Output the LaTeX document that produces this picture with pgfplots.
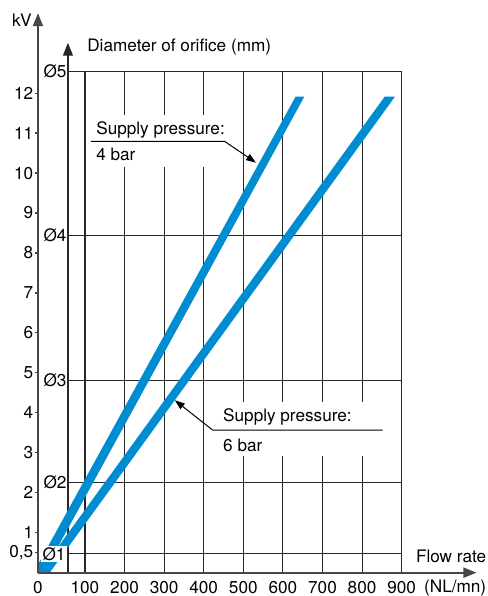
\documentclass[border=0pt]{standalone}
\usepackage{fontspec}
\setmainfont{TeX Gyre Heros}
\usepackage{pgfplots}
\pgfplotsset{compat=1.18}
\usetikzlibrary{arrows.meta}
\definecolor{cblue}{RGB}{0,140,208}
\definecolor{axgray}{RGB}{70,70,70}
\definecolor{gridc}{RGB}{40,40,40}
\begin{document}
\begin{tikzpicture}[font=\fontsize{8.6}{10}\selectfont]
\begin{axis}[
  x=0.198125pt, y=20pt,
  xmin=-18.7, xmax=1089, ymin=0, ymax=14.0,
  enlargelimits=false, clip=false,
  axis lines=left,
  axis line style={draw=none},
  xtick={-18.7,100,200,300,400,500,600,700,800,900},
  xticklabels={0,100,200,300,400,500,600,700,800,900},
  x tick style={draw=none},
  x tick label style={inner sep=0pt, yshift=-2.6pt},
  ytick={0.5,1,2,3,4,5,6,7,8,9,10,11,12},
  yticklabels={{0,5},1,2,3,4,5,6,7,8,9,10,11,12},
  y tick style={draw=axgray, line width=0.6pt},
  y tick label style={inner sep=0.6pt},
  tick align=outside, major tick length=1.6pt,
  ytick pos=left, xtick pos=bottom,
]
% bounding box
\path (axis cs:-114.6,-0.568) rectangle (axis cs:1117,14.33);
% grid
\pgfplotsinvokeforeach{100,200,300,400,500,600,700,800,900}{
  \draw[gridc, line width=0.55pt] (axis cs:#1,0) -- (axis cs:#1,12.53);
}
\pgfplotsinvokeforeach{0.48,2.265,4.81,8.44,12.53}{
  \draw[gridc, line width=0.55pt] (axis cs:57,#1) -- (axis cs:900,#1);
}
% diameter axis
\draw[gridc, line width=0.65pt, -{Triangle[width=5pt,length=6.5pt]}] (axis cs:57,0) -- (axis cs:57,13.26);
% white boxes behind annotations
\fill[white] (axis cs:115,11.46) rectangle (axis cs:455.8,10.16);
\fill[white] (axis cs:423,4.26) rectangle (axis cs:852,2.91);
% bands: 4 bar
\addplot[fill=cblue, draw=none] coordinates {(-18.7,0) (-18.7,0.2) (632,11.91) (654,11.91) (-4,0)};
% 6 bar
\addplot[fill=cblue, draw=none] coordinates {(-15,0) (857,11.91) (883,11.91) (11,0)};
% main axes
\draw[axgray, line width=0.9pt, -{Triangle[width=5pt,length=6.5pt]}] (axis cs:-18.7,0) -- (axis cs:1089,0);
\draw[axgray, line width=0.9pt, -{Triangle[width=5pt,length=6.5pt]}] (axis cs:-18.7,0) -- (axis cs:-18.7,14.0);
% diameter labels
\node[anchor=base east, inner sep=0pt] at (axis cs:54.5,12.38) {Ø5};
\node[anchor=base east, inner sep=0pt] at (axis cs:54.5,8.29) {Ø4};
\node[anchor=base east, inner sep=0pt] at (axis cs:54.5,4.66) {Ø3};
\node[anchor=base east, inner sep=0pt] at (axis cs:54.5,2.115) {Ø2};
\node[anchor=base east, inner sep=0.8pt, fill=white] at (axis cs:56,0.31) {Ø1};
% annotations
\draw[black, line width=0.5pt, -{Triangle[length=5pt,width=3.5pt]}] (axis cs:115,10.79) -- (axis cs:453.2,10.79) -- (axis cs:532,10.26);
\node[anchor=base west, inner sep=0pt] at (axis cs:127.7,10.96) {Supply pressure:};
\node[anchor=base west, inner sep=0pt] at (axis cs:127.7,10.31) {4 bar};
\draw[black, line width=0.5pt, -{Triangle[length=5pt,width=3.5pt]}] (axis cs:851.7,3.565) -- (axis cs:423,3.565) -- (axis cs:327,4.315);
\node[anchor=base west, inner sep=0pt] at (axis cs:448.2,3.79) {Supply pressure:};
\node[anchor=base west, inner sep=0pt] at (axis cs:448.2,3.04) {6 bar};
% axis titles
\node[anchor=base east, inner sep=0pt] at (axis cs:-33.8,13.66) {kV};
\node[anchor=base west, inner sep=0pt] at (axis cs:105,13.03) {Diameter of orifice (mm)};
\node[anchor=base east, inner sep=0pt] at (axis cs:1114.5,0.26) {Flow rate};
\node[anchor=base east, inner sep=0pt] at (axis cs:1114.5,-0.4925) {(NL/mn)};
\end{axis}
\end{tikzpicture}
\end{document}
